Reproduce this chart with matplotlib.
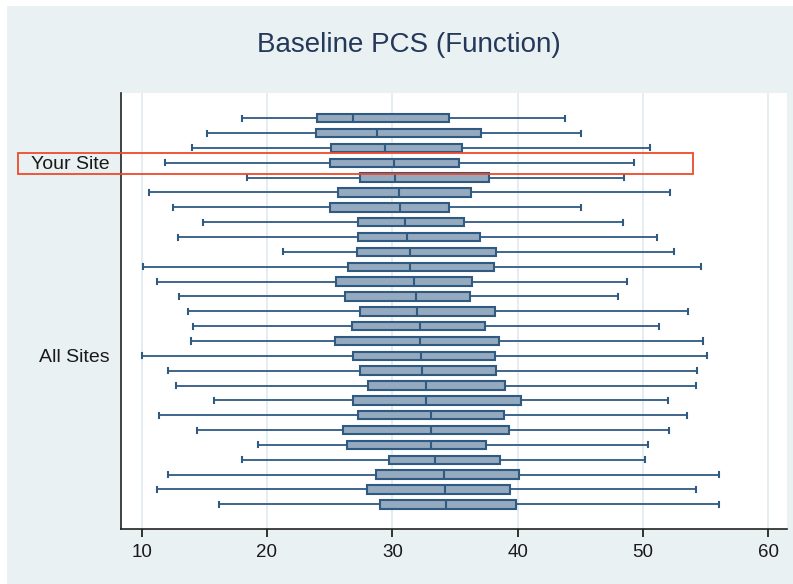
import matplotlib
matplotlib.use("Agg")
import matplotlib.pyplot as plt
from matplotlib.patches import Rectangle

plt.rcParams['font.family'] = ['Liberation Sans', 'DejaVu Sans']

# Data (rows top to bottom)
whisker_low = [18.0, 15.2, 14.0, 11.9, 18.4, 10.6, 12.5, 14.9, 12.9, 21.3, 10.1, 11.2, 13.0, 13.7,
               14.1, 13.9, 10.0, 12.1, 12.7, 15.8, 11.4, 14.4, 19.3, 18.0, 12.1, 11.2, 16.2]
q1 = [24.0, 23.9, 25.1, 25.0, 27.4, 25.7, 25.0, 27.3, 27.3, 27.2, 26.5, 25.5, 26.2, 27.4,
      26.8, 25.4, 26.9, 27.4, 28.1, 26.9, 27.3, 26.1, 26.4, 29.7, 28.7, 28.0, 29.0]
median = [26.9, 28.8, 29.4, 30.1, 30.2, 30.5, 30.6, 31.0, 31.2, 31.4, 31.4, 31.7, 31.9, 32.0,
          32.2, 32.2, 32.3, 32.4, 32.7, 32.7, 33.1, 33.1, 33.1, 33.4, 34.1, 34.2, 34.3]
q3 = [34.5, 37.1, 35.6, 35.3, 37.7, 36.3, 34.5, 35.7, 37.0, 38.3, 38.1, 36.4, 36.2, 38.2,
      37.4, 38.5, 38.2, 38.3, 39.0, 40.3, 38.9, 39.3, 37.5, 38.6, 40.1, 39.4, 39.9]
whisker_high = [43.8, 45.1, 50.6, 49.3, 48.5, 52.2, 45.1, 48.4, 51.1, 52.5, 54.6, 48.7, 48.0, 53.6,
                51.3, 54.8, 55.1, 54.3, 54.2, 52.0, 53.5, 52.1, 50.4, 50.2, 56.1, 54.2, 56.1]
row_labels = ["Your Site", "All Sites"]
label_rows = [4, 17]
highlight_row = 4
highlight_right = 54.0
xticks = [10, 20, 30, 40, 50, 60]
title = "Baseline PCS (Function)"

BG = '#EAF1F3'
BOX_FACE = '#95A9BF'
BOX_EDGE = '#2F5A82'

W, H = 793, 584
fig = plt.figure(figsize=(W / 100, H / 100), dpi=100, facecolor='white')
fig.patches.append(Rectangle((7 / W, 0), 1, 1 - 6 / H, transform=fig.transFigure,
                             facecolor=BG, edgecolor='none', zorder=-10))

ax = fig.add_axes([121 / W, 1 - 529 / H, (787 - 121) / W, (529 - 93) / H])
ax.set_facecolor('white')

n = len(median)
positions = list(range(1, n + 1))
stats = [dict(whislo=whisker_low[i], q1=q1[i], med=median[i], q3=q3[i],
              whishi=whisker_high[i], fliers=[]) for i in range(n)]
ax.bxp(stats, positions=positions, orientation='horizontal', widths=0.57,
       patch_artist=True, showfliers=False, capwidths=0.34,
       boxprops=dict(facecolor=BOX_FACE, edgecolor=BOX_EDGE, linewidth=1.5),
       medianprops=dict(color=BOX_EDGE, linewidth=1.5),
       whiskerprops=dict(color=BOX_EDGE, linewidth=1.3),
       capprops=dict(color=BOX_EDGE, linewidth=1.5))

ax.set_ylim(28.66, -0.70)
ax.set_xlim(8.35, 61.5)
ax.set_xticks(xticks)
ax.set_xticklabels([str(t) for t in xticks], fontsize=13.5)
ax.set_yticks(label_rows)
ax.set_yticklabels(row_labels, fontsize=14, color='#1a1a1a')
ax.tick_params(axis='y', length=0, pad=8)
ax.tick_params(axis='x', direction='out', length=6, width=1.1, pad=5, colors='black',
               labelcolor='#1a1a1a')
ax.grid(axis='x', color='#E2ECEF', linewidth=1.3)
ax.set_axisbelow(True)
for s in ['top', 'right']:
    ax.spines[s].set_visible(False)
for s in ['left', 'bottom']:
    ax.spines[s].set_linewidth(1.2)
    ax.spines[s].set_color('#222222')

# highlight rectangle around "Your Site"
x_left = ax.transData.inverted().transform((18.3, 0))[0]
ax.add_patch(Rectangle((x_left, highlight_row - 0.64), highlight_right - x_left, 1.41,
                       fill=False, edgecolor='#EE4A2A', linewidth=1.3, clip_on=False, zorder=5))

fig.text(408.5 / W, 1 - 45 / H, title, ha='center', va='center', fontsize=20, color='#24385A')

fig.savefig('out.png', dpi=100, facecolor=fig.get_facecolor())
